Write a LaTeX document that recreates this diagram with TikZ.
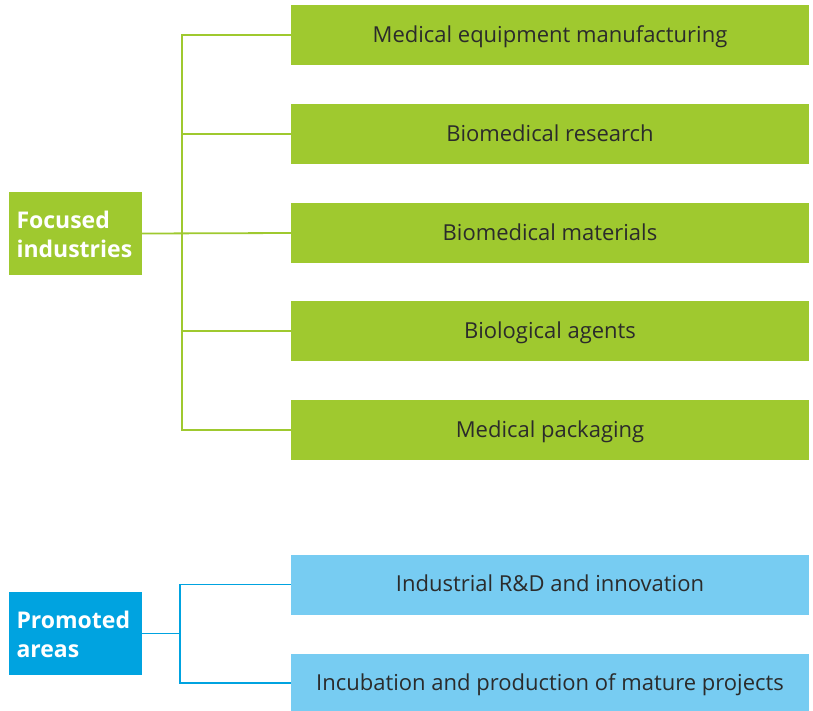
\documentclass[tikz,border=0pt]{standalone}
\usepackage{fontspec}
\setmainfont{Open Sans}
\definecolor{gr}{HTML}{9FC92F}
\definecolor{bl}{HTML}{00A3E0}
\definecolor{lb}{HTML}{77CCF2}
\definecolor{tx}{HTML}{2B2B2B}
\tikzset{
  item/.style={minimum width=518pt, minimum height=60pt, inner sep=0pt, text height=19pt, text depth=5pt, text=tx, font=\fontsize{22}{26}\selectfont},
  gitem/.style={item, fill=gr},
  bitem/.style={item, fill=lb},
  head/.style={minimum width=133pt, minimum height=83pt, inner sep=0pt, text height=12pt, text depth=23pt, text=white, font=\bfseries\fontsize{23}{29}\selectfont, text width=118pt, align=left},
  gline/.style={gr, line width=1.8pt},
  bline/.style={bl, line width=1.8pt},
}
\begin{document}
\begin{tikzpicture}[x=1pt,y=-1pt]
\useasboundingbox (0,0) rectangle (813,710);
\node[gitem] (g1) at (550,35) {Medical equipment manufacturing};
\node[gitem] (g2) at (550,134) {Biomedical research};
\node[gitem] (g3) at (550,233) {Biomedical materials};
\node[gitem] (g4) at (550,331) {Biological agents};
\node[gitem] (g5) at (550,430) {Medical packaging};
\node[bitem] (b1) at (550,584.5) {Industrial R\&D and innovation};
\node[bitem, minimum height=58pt] (b2) at (550,683) {Incubation and production of mature projects};
\node[head, fill=gr] (f) at (75.5,233.5) {Focused\\industries};
\node[head, fill=bl] (p) at (75.5,633.5) {Promoted\\areas};
\coordinate (gv) at (182,0);
\draw[gline] (g1.west) -- (g1.west -| gv) -- (g5.west -| gv) -- (g5.west);
\draw[gline] (g2.west) -- (g2.west -| gv);
\draw[gline] (g4.west) -- (g4.west -| gv);
\draw[gline] (f.east) -- (g3.west);
\coordinate (bv) at (180,0);
\draw[bline] (b1.west) -- (b1.west -| bv) -- (b2.west -| bv) -- (b2.west);
\draw[bline] (p.east) -- (p.east -| bv);
\end{tikzpicture}
\end{document}
